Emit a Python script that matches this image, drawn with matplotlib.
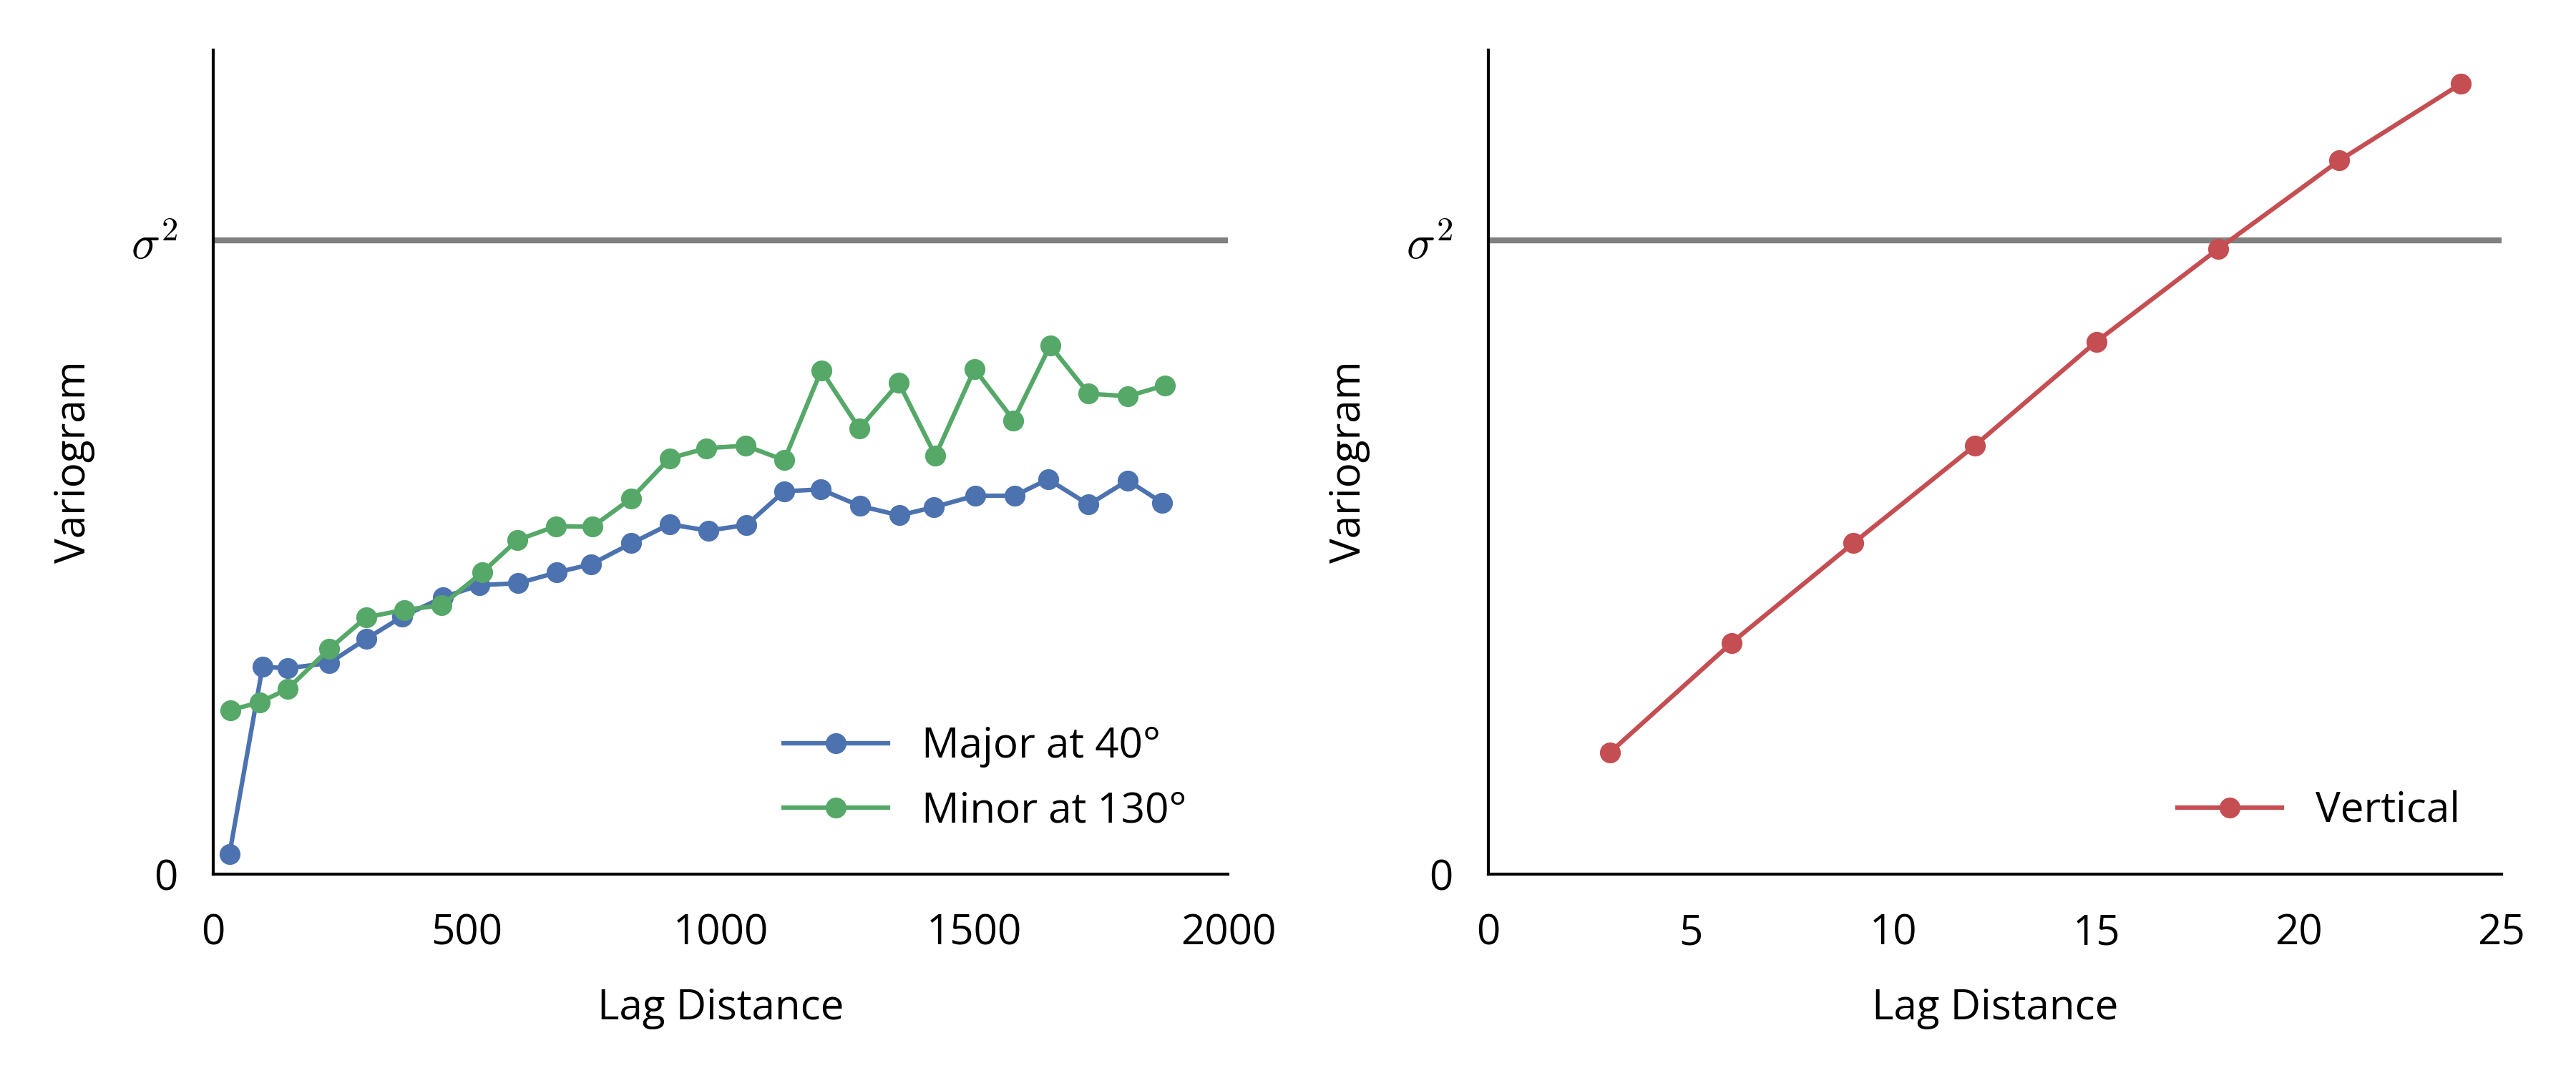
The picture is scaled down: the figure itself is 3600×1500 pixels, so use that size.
import matplotlib
matplotlib.use("Agg")
import matplotlib.pyplot as plt

# ---- data ----
major_lag = [32, 97, 147, 228, 301, 372, 453, 525, 601, 677, 745, 824, 899, 975, 1051,
             1125, 1197, 1274, 1352, 1420, 1501, 1579, 1645, 1725, 1802, 1870]
major_val = [0.032, 0.327, 0.325, 0.333, 0.371, 0.406, 0.437, 0.456, 0.459, 0.476, 0.489,
             0.522, 0.552, 0.542, 0.551, 0.604, 0.607, 0.581, 0.566, 0.579, 0.597, 0.597,
             0.623, 0.583, 0.621, 0.586]
minor_lag = [34, 91, 146, 228, 301, 376, 450, 530, 599, 675, 747, 824, 899, 972, 1049,
             1125, 1198, 1273, 1351, 1423, 1500, 1577, 1649, 1725, 1802, 1875]
minor_val = [0.259, 0.271, 0.292, 0.355, 0.405, 0.417, 0.424, 0.476, 0.527, 0.549, 0.548,
             0.593, 0.656, 0.672, 0.676, 0.653, 0.795, 0.703, 0.775, 0.660, 0.797, 0.716,
             0.834, 0.758, 0.754, 0.771]
vert_lag = [3, 6, 9, 12, 15, 18, 21, 24]
vert_val = [0.192, 0.365, 0.522, 0.676, 0.840, 0.986, 1.126, 1.247]

sill = 1.0
ytick_vals = [0, 1]
ytick_labels = ['0', r'$\sigma^2$']
left_xticks = [0, 500, 1000, 1500, 2000]
right_xticks = [0, 5, 10, 15, 20, 25]

BLUE = '#4C72B0'
GREEN = '#55A868'
RED = '#C44E52'
GRAY = '#808080'

plt.rcParams['font.family'] = ['Open Sans', 'DejaVu Sans']
plt.rcParams['mathtext.fontset'] = 'cm'
plt.rcParams['font.size'] = 14

fig = plt.figure(figsize=(12, 5), dpi=300)
ax1 = fig.add_axes([0.0828, 0.1853, 0.394, 0.768])
ax2 = fig.add_axes([0.5778, 0.1853, 0.3933, 0.768])

def style(ax, xlim, xticks):
    ax.set_xlim(*xlim)
    ax.set_ylim(0, 1.3)
    ax.set_xticks(xticks)
    ax.set_yticks(ytick_vals)
    ax.set_yticklabels(ytick_labels)
    for s in ['top', 'right']:
        ax.spines[s].set_visible(False)
    for s in ['left', 'bottom']:
        ax.spines[s].set_linewidth(1.0)
        ax.spines[s].set_color('black')
    ax.tick_params(axis='both', length=0, labelsize=14)
    ax.tick_params(axis='x', pad=13)
    ax.tick_params(axis='y', pad=12)
    ax.set_xlabel('Lag Distance', fontsize=14, labelpad=11)
    ax.set_ylabel('Variogram', fontsize=14, labelpad=12)
    ax.axhline(sill, color=GRAY, lw=2.0, zorder=1)

style(ax1, (0, 2000), left_xticks)
style(ax2, (0, 25), right_xticks)
ax1.yaxis.get_ticklabels()[1].set_fontsize(16)
ax2.yaxis.get_ticklabels()[1].set_fontsize(16)

ax1.plot(major_lag, major_val, '-o', color=BLUE, lw=1.5, ms=6, label='Major at 40°', zorder=3)
ax1.plot(minor_lag, minor_val, '-o', color=GREEN, lw=1.5, ms=6, label='Minor at 130°', zorder=3)
ax2.plot(vert_lag, vert_val, '-o', color=RED, lw=1.5, ms=6, label='Vertical', zorder=3)

for ax in (ax1, ax2):
    ax.legend(loc='lower right', frameon=False, fontsize=14, handlelength=2.5,
              handletextpad=0.8, labelspacing=0.55, borderaxespad=0.6)

fig.savefig('out.png', dpi=300)
